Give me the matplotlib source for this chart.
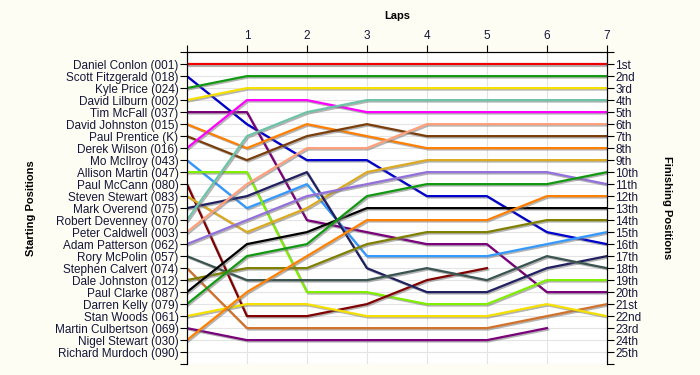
import numpy as np
import matplotlib.pyplot as plt
import matplotlib.patheffects as pe

plt.rcParams["font.family"] = ["Liberation Sans", "DejaVu Sans"]

nan = np.nan
laps = [0, 1, 2, 3, 4, 5, 6, 7]

drivers = ["Daniel Conlon (001)", "Scott Fitzgerald (018)", "Kyle Price (024)",
           "David Lilburn (002)", "Tim McFall (037)", "David Johnston (015)",
           "Paul Prentice (K)", "Derek Wilson (016)", "Mo McIlroy (043)",
           "Allison Martin (047)", "Paul McCann (080)", "Steven Stewart (083)",
           "Mark Overend (075)", "Robert Devenney (070)", "Peter Caldwell (003)",
           "Adam Patterson (062)", "Rory McPolin (057)", "Stephen Calvert (074)",
           "Dale Johnston (012)", "Paul Clarke (087)", "Darren Kelly (079)",
           "Stan Woods (061)", "Martin Culbertson (069)", "Nigel Stewart (030)",
           "Richard Murdoch (090)"]

line_colors = ["#ee0000", "#0000cc", "#119911", "#f5e000", "#7a007a", "#ff8000",
               "#7a3e0a", "#ff00ff", "#3399ff", "#80ee00", "#800000", "#dcaa20",
               "#202060", "#6cc3a8", "#ffa07a", "#9370db", "#3a5450", "#d2722a",
               "#808000", "#000000", "#119911", "#f5e000", "#7a007a", "#ff8000",
               "#888888"]

# position of each driver after each lap (lap 0 = grid)
positions = [
    [1, 1, 1, 1, 1, 1, 1, 1],
    [2, 6, 9, 9, 12, 12, 15, 16],
    [3, 2, 2, 2, 2, 2, 2, 2],
    [4, 3, 3, 3, 3, 3, 3, 3],
    [5, 5, 14, 15, 16, 16, 20, 20],
    [6, 8, 6, 7, 8, 8, 8, 8],
    [7, 9, 7, 6, 7, 7, 7, 7],
    [8, 4, 4, 5, 5, 5, 5, 5],
    [9, 13, 11, 17, 17, 17, 16, 15],
    [10, 10, 20, 20, 21, 21, 19, 19],
    [11, 22, 22, 21, 19, 18, nan, nan],
    [12, 15, 13, 10, 9, 9, 9, 9],
    [13, 12, 10, 18, 20, 20, 18, 17],
    [14, 7, 5, 4, 4, 4, 4, 4],
    [15, 11, 8, 8, 6, 6, 6, 6],
    [16, 14, 12, 11, 10, 10, 10, 11],
    [17, 19, 19, 19, 18, 19, 17, 18],
    [18, 23, 23, 23, 23, 23, 22, 21],
    [19, 18, 18, 16, 15, 15, 14, 14],
    [20, 16, 15, 13, 13, 13, 13, 13],
    [21, 17, 16, 12, 11, 11, 11, 10],
    [22, 21, 21, 22, 22, 22, 21, 22],
    [23, 24, 24, 24, 24, 24, 23, nan],
    [24, 20, 17, 14, 14, 14, 12, 12],
    [nan, nan, nan, nan, nan, nan, nan, nan],
]

finish_labels = ["1st", "2nd", "3rd"] + [f"{i}th" for i in range(4, 21)] + \
                ["21st", "22nd", "23rd", "24th", "25th"]

text_col = "#15153a"

fig = plt.figure(figsize=(7, 3.75), dpi=100, facecolor="#fdfdf3")
ax = fig.add_axes([0.267, 0.029, 0.6, 0.832])
ax.set_facecolor("white")

n = len(drivers)
ax.set_xlim(0, 7)
ax.set_ylim(n + 1, 0)

# grid
for y in range(1, n + 2):
    ax.axhline(y, color="#e4e4e4", lw=0.8, zorder=0)
for x in laps[1:-1]:
    ax.axvline(x, color="#e4e4e4", lw=0.8, zorder=0)

shadow = [pe.SimpleLineShadow(offset=(1.0, -1.0), shadow_color="#777777", alpha=0.55),
          pe.Normal()]
for i in range(n):
    ax.plot(laps, positions[i], color=line_colors[i], lw=1.6,
            path_effects=shadow, zorder=2)

# left axis: starting positions
ax.set_yticks(range(0, n + 2))
ax.set_yticklabels([""] + drivers + [""], fontsize=8.5, color=text_col)
ax.tick_params(axis="y", length=5, width=0.8, pad=1)

# top axis: laps
ax.xaxis.tick_top()
ax.xaxis.set_label_position("top")
ax.set_xticks(laps)
ax.set_xticklabels([""] + [str(l) for l in laps[1:]], fontsize=8.5, color=text_col)
ax.tick_params(axis="x", length=5, width=0.8, pad=2)
ax.set_xlabel("Laps", fontsize=8, fontweight="bold", labelpad=8)

ax.spines["bottom"].set_visible(False)

# right axis: finishing positions
ax2 = ax.twinx()
ax2.set_ylim(n + 1, 0)
ax2.set_yticks(range(0, n + 2))
ax2.set_yticklabels([""] + finish_labels + [""], fontsize=8.5, color=text_col)
ax2.tick_params(axis="y", length=5, width=0.8, pad=1)
ax2.spines["bottom"].set_visible(False)

ax.set_ylabel("Starting Positions", fontsize=8, fontweight="bold")
ax.yaxis.set_label_coords(-0.36, 0.5)
ax2.set_ylabel("Finishing Positions", fontsize=8, fontweight="bold", rotation=270)
ax2.yaxis.set_label_coords(1.155, 0.5)

fig.savefig("out.png", dpi=100, facecolor=fig.get_facecolor())
